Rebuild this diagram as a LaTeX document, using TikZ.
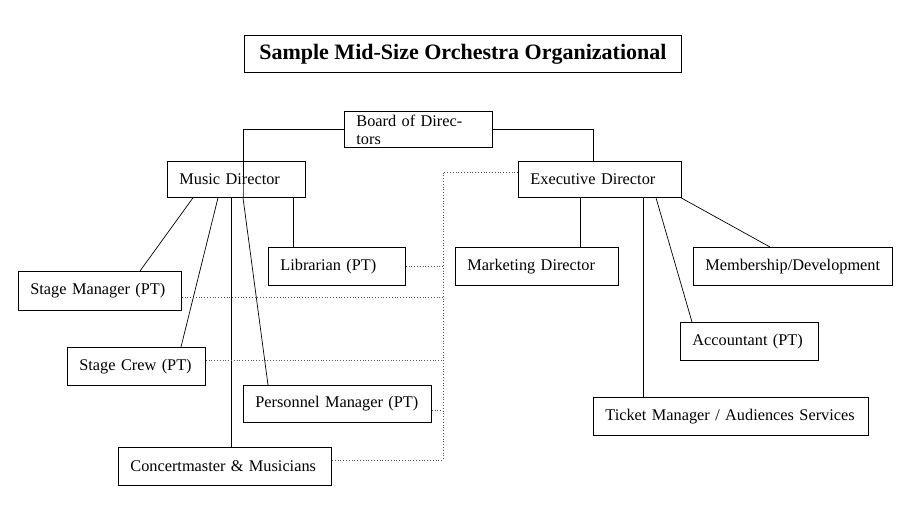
\documentclass[tikz,border=0pt]{standalone}
\usepackage{fontspec}
\setmainfont{Liberation Serif}
\begin{document}
\begin{tikzpicture}[x=1pt,y=-1pt,
  box/.style={draw, rectangle, line width=0.8pt, anchor=north west, inner sep=0pt, align=left, font=\fontsize{16.3}{18}\selectfont},
  rel/.style={dotted, gray!70!black, line width=0.8pt},
  tie/.style={line width=0.7pt}]
  \useasboundingbox (0,0) rectangle (924,520);
  % boxes: corner, width, height
  \newcommand{\orgbox}[6]{\node[box, minimum width=#4, minimum height=#5, text width=#4-24, inner xsep=11pt] (#1) at (#2,#3) {#6};}
  \node[draw, line width=0.8pt, minimum width=437, minimum height=37, anchor=north west, font=\bfseries\fontsize{22}{24}\selectfont] (title) at (244,35) {Sample Mid-Size Orchestra Organizational};
  \orgbox{board}{344}{111}{148}{36}{Board of Directors}
  \orgbox{music}{167}{161}{138}{36}{Music Director}
  \orgbox{exec}{518}{161}{163}{36}{Executive Director}
  \orgbox{stagemgr}{18}{271}{163}{39}{Stage Manager (PT)}
  \orgbox{libr}{268}{247}{137}{38}{Librarian (PT)}
  \orgbox{crew}{67}{347}{138}{38}{Stage Crew (PT)}
  \orgbox{personnel}{243}{385}{188}{37}{Personnel Manager (PT)}
  \orgbox{concert}{118}{447}{213}{38}{Concertmaster \& Musicians}
  \orgbox{market}{455}{247}{163}{38}{Marketing Director}
  \orgbox{member}{693}{247}{199}{38}{Membership/Development}
  \orgbox{account}{680}{322}{138}{38}{Accountant (PT)}
  \orgbox{ticket}{593}{397}{275}{38}{Ticket Manager / Audiences Services}
  % solid lines
  \draw[tie] (board.west) -| (music.south -| 243,0) -- (music.north -| 243,0);
  \draw[tie] (board.east) -| (exec.north -| 593,0);
  \draw[tie] (music.south -| 193,0) -- (stagemgr.north -| 140,0);
  \draw[tie] (music.south -| 218,0) -- (crew.north -| 181,0);
  \draw[tie] (music.south -| 231,0) -- (concert.north -| 231,0);
  \draw[tie] (music.south -| 243,0) -- (personnel.north -| 268,0);
  \draw[tie] (music.south -| 293,0) -- (libr.north -| 293,0);
  \draw[tie] (exec.south -| 580,0) -- (market.north -| 580,0);
  \draw[tie] (exec.south -| 643,0) -- (ticket.north -| 643,0);
  \draw[tie] (exec.south -| 656,0) -- (account.north -| 692,0);
  \draw[tie] (exec.south -| 681,0) -- (member.north -| 770,0);
  % dotted lines
  \coordinate (dtop) at (443,172);
  \coordinate (dbot) at (443,460);
  \draw[rel] (exec.west |- dtop) -- (dtop) -- (dbot) -- (concert.east |- dbot);
  \draw[rel] (libr.east) -- (libr.east -| dtop);
  \draw[rel] (stagemgr.east |- 0,297) -- (dtop |- 0,297);
  \draw[rel] (crew.east |- 0,360) -- (dtop |- 0,360);
  \draw[rel] (personnel.east |- 0,410) -- (dtop |- 0,410);
\end{tikzpicture}
\end{document}
